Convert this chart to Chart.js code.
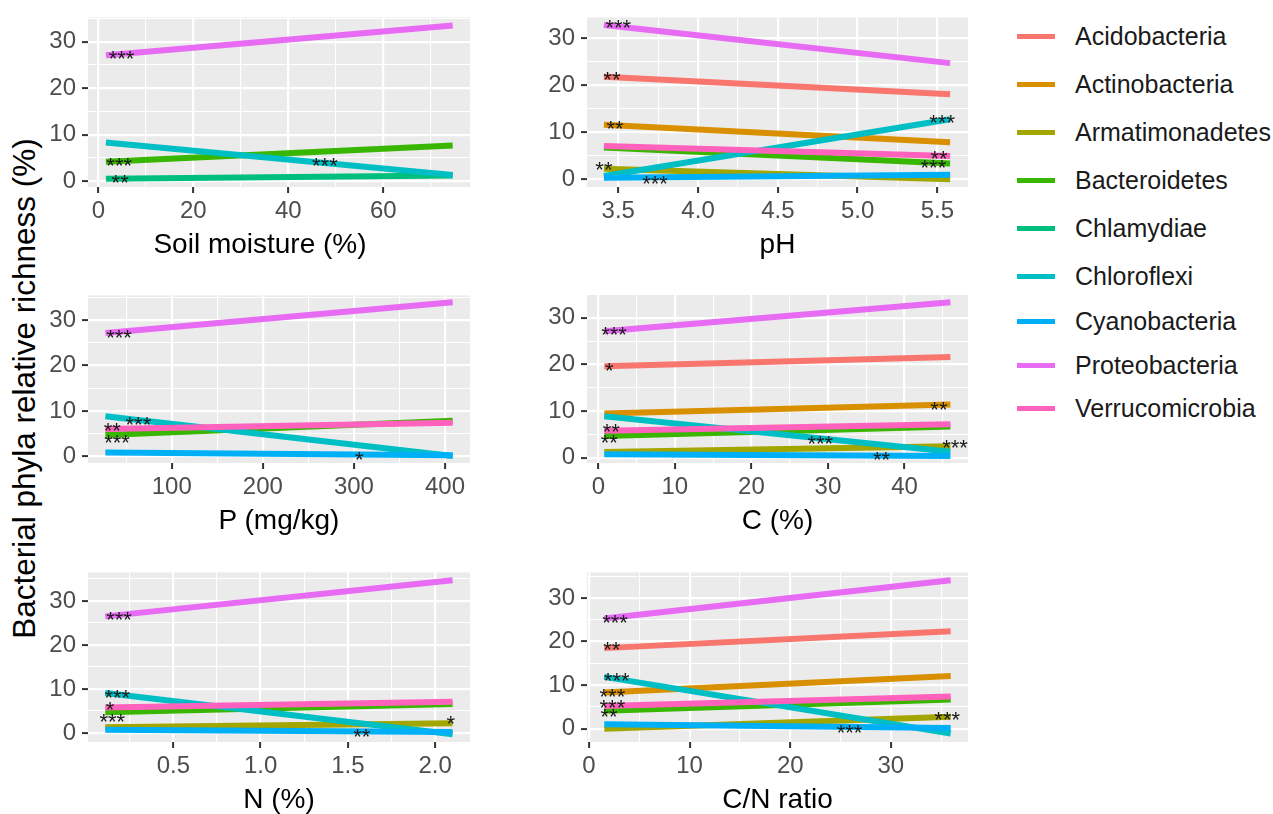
<!DOCTYPE html>
<html>
<head>
<meta charset="utf-8">
<script src="https://cdn.jsdelivr.net/npm/chart.js@4.4.0/dist/chart.umd.min.js"></script>
<style>
  html, body { margin: 0; padding: 0; background: #FFFFFF; }
  body { width: 1273px; height: 814px; position: relative; overflow: hidden;
         font-family: "Liberation Sans", Arial, Helvetica, sans-serif; }
  canvas { position: absolute; }
  #ytitle { position: absolute; width: 600px; height: 31px; line-height: 31px; font-size: 31.5px;
            text-align: center; color: #000000; transform: rotate(-90deg); transform-origin: 50% 50%;
            white-space: nowrap; }
  .xtitle { position: absolute; width: 400px; height: 28px; line-height: 28px; font-size: 28px;
            text-align: center; color: #000000; white-space: nowrap; }
  .leg { position: absolute; left: 1017px; height: 30px; display: flex; align-items: center;
         font-size: 25px; color: #1A1A1A; white-space: nowrap; }
  .leg i { display: inline-block; width: 38px; height: 5px; margin-right: 20px; }
</style>
</head>
<body>
<div id="ytitle">Bacterial phyla relative richness (%)</div>
<script>
// ---------------- data ----------------
const phyla = ['Acidobacteria', 'Actinobacteria', 'Armatimonadetes', 'Bacteroidetes', 'Chlamydiae',
               'Chloroflexi', 'Cyanobacteria', 'Proteobacteria', 'Verrucomicrobia'];
const phylaColors = ['#F8766D', '#D89000', '#A3A500', '#39B600', '#00BF7D',
                     '#00BFC4', '#00B0F6', '#E76BF3', '#FF62BC'];

const yTickValues = [0, 10, 20, 30];
const yTickLabels = ['0', '10', '20', '30'];

// Soil moisture (%)
const moistureX = [1.6, 74.6];
const moistureStart = [null, null, null, 4.2, 0.5, 8.3, null, 27.1, null];
const moistureEnd   = [null, null, null, 7.7, 1.2, 1.3, null, 33.5, null];
const moistureStarText = ['***', '***', '**', '***'];
const moistureStarX = [4.9, 4.4, 4.6, 47.7];
const moistureStarY = [27.1, 4.1, 0.4, 4.2];
const moistureTicks = [0, 20, 40, 60];
const moistureTickLabels = ['0', '20', '40', '60'];
const moistureXRange = [-2.17, 78.25];
const moistureYRange = [-1.26, 35.26];

// pH
const phX = [3.41, 5.58];
const phStart = [21.8, 11.6, 2.3, 6.8, null, 0.75, 0.35, 32.8, 7.1];
const phEnd   = [18.1, 7.9, 0.05, 3.4, null, 12.8, 1.0, 24.7, 5.0];
const phStarText = ['***', '**', '**', '**', '***', '***', '**', '***'];
const phStarX = [3.50, 3.46, 3.48, 3.41, 3.73, 5.53, 5.51, 5.475];
const phStarY = [33.0, 21.9, 11.6, 2.8, -0.1, 12.8, 5.2, 3.2];
const phTicks = [3.5, 4.0, 4.5, 5.0, 5.5];
const phTickLabels = ['3.5', '4.0', '4.5', '5.0', '5.5'];
const phXRange = [3.304, 5.692];
const phYRange = [-1.59, 34.4];

// P (mg/kg)
const pX = [27.2, 408.4];
const pStart = [null, null, null, 4.7, null, 8.8, 0.8, 27.2, 6.0];
const pEnd   = [null, null, null, 7.8, null, 0.05, 0.2, 34.0, 7.4];
const pStarText = ['***', '**', '***', '***', '*'];
const pStarX = [42.2, 34.8, 63.4, 40.0, 305.8];
const pStarY = [27.0, 6.5, 7.8, 3.7, 0.1];
const pTicks = [100, 200, 300, 400];
const pTickLabels = ['100', '200', '300', '400'];
const pXRange = [8.1, 427.4];
const pYRange = [-1.51, 35.5];

// C (%)
const cX = [0.78, 46.0];
const cStart = [19.6, 9.5, 1.25, 4.7, null, 8.9, 0.8, 27.1, 5.8];
const cEnd   = [21.6, 11.4, 2.5, 6.7, null, 1.3, 0.4, 33.3, 7.2];
const cStarText = ['***', '*', '**', '**', '***', '**', '**', '***'];
const cStarX = [2.05, 1.44, 1.7, 1.44, 29.0, 37.0, 44.5, 46.6];
const cStarY = [27.1, 19.4, 6.3, 4.0, 3.9, 0.3, 11.0, 3.0];
const cTicks = [0, 10, 20, 30, 40];
const cTickLabels = ['0', '10', '20', '30', '40'];
const cXRange = [-1.48, 48.3];
const cYRange = [-1.1, 35.0];

// N (%)
const nX = [0.11, 2.10];
const nStart = [null, null, 1.3, 4.7, null, 9.1, 0.75, 26.5, 5.8];
const nEnd   = [null, null, 2.2, 6.6, null, -0.3, 0.2, 34.7, 7.1];
const nStarText = ['***', '***', '*', '***', '**', '*'];
const nStarX = [0.189, 0.179, 0.137, 0.150, 1.58, 2.09];
const nStarY = [26.5, 8.8, 6.1, 3.4, 0.0, 3.0];
const nTicks = [0.5, 1.0, 1.5, 2.0];
const nTickLabels = ['0.5', '1.0', '1.5', '2.0'];
const nXRange = [0.011, 2.2];
const nYRange = [-2.06, 36.5];

// C/N ratio
const cnX = [1.52, 35.95];
const cnStart = [18.5, 8.3, 0.0, 4.1, null, 11.9, 1.0, 25.3, 5.2];
const cnEnd   = [22.4, 12.1, 2.75, 6.7, null, -1.1, 0.15, 34.1, 7.4];
const cnStarText = ['***', '**', '***', '***', '***', '**', '***', '***'];
const cnStarX = [2.58, 2.26, 2.75, 2.32, 2.32, 1.99, 25.9, 35.6];
const cnStarY = [25.3, 19.0, 11.9, 8.2, 5.6, 3.6, 0.0, 2.8];
const cnTicks = [0, 10, 20, 30];
const cnTickLabels = ['0', '10', '20', '30'];
const cnXRange = [-0.2, 37.67];
const cnYRange = [-3.07, 35.9];

// ---------------- rendering ----------------
Chart.defaults.font.family = '"Liberation Sans", Arial, Helvetica, sans-serif';

const AXIS_W = 70, AXIS_H = 80, PAD_T = 16, PAD_R = 30;

function gridTicks(range, majors, labels) {
  const step = majors[1] - majors[0];
  const out = majors.map((v, i) => ({ value: v, label: labels[i], isMinor: false }));
  for (let k = -1; k < majors.length; k++) {
    const m = majors[0] + (k + 0.5) * step;
    if (m >= range[0] && m <= range[1]) out.push({ value: m, label: '', isMinor: true });
  }
  out.sort((a, b) => a.value - b.value);
  return out;
}

function axisOpts(kind, range, majors, labels) {
  const tickList = gridTicks(range, majors, labels);
  return {
    type: 'linear',
    position: kind === 'x' ? 'bottom' : 'left',
    min: range[0], max: range[1],
    afterBuildTicks: s => { s.ticks = tickList.map(t => ({ value: t.value, isMinor: t.isMinor, lbl: t.label })); },
    afterFit: s => { if (kind === 'x') s.height = AXIS_H; else s.width = AXIS_W; },
    border: { display: false },
    grid: {
      color: '#FFFFFF',
      lineWidth: c => (c.tick && c.tick.isMinor) ? 1.1 : 2.2,
      drawTicks: true,
      tickLength: 6,
      tickColor: c => (c.tick && c.tick.isMinor) ? 'rgba(0,0,0,0)' : '#333333',
      tickWidth: 2
    },
    ticks: {
      autoSkip: false, maxRotation: 0, minRotation: 0,
      padding: kind === 'x' ? 4 : 6,
      color: '#4D4D4D', font: { size: 24 },
      callback: function (v, i, arr) { return arr[i].isMinor ? '' : arr[i].lbl; }
    },
    title: { display: false }
  };
}

function makePanel(rect, xTitle, titleCx, xExt, start, end, xRange, yRange, xTicks, xTickLabels, starText, starX, starY) {
  const cw = AXIS_W + (rect.R - rect.L) + PAD_R;
  const ch = PAD_T + (rect.B - rect.T) + AXIS_H;
  const canvas = document.createElement('canvas');
  canvas.width = cw; canvas.height = ch;
  canvas.style.width = cw + 'px'; canvas.style.height = ch + 'px';
  canvas.style.left = (rect.L - AXIS_W) + 'px';
  canvas.style.top = (rect.T - PAD_T) + 'px';
  document.body.appendChild(canvas);

  const datasets = [];
  phyla.forEach((name, i) => {
    if (start[i] === null) return;
    datasets.push({
      label: name,
      data: [{ x: xExt[0], y: start[i] }, { x: xExt[1], y: end[i] }],
      borderColor: phylaColors[i], backgroundColor: phylaColors[i],
      borderWidth: 6, pointRadius: 0, borderCapStyle: 'butt',
      tension: 0, fill: false, order: phyla.length - i
    });
  });

  const bgPlugin = {
    id: 'panelBg',
    beforeDraw(chart) {
      const a = chart.chartArea, ctx = chart.ctx;
      ctx.save();
      ctx.fillStyle = '#EBEBEB';
      ctx.fillRect(a.left, a.top, a.right - a.left, a.bottom - a.top);
      ctx.restore();
    }
  };
  const starPlugin = {
    id: 'stars',
    afterDatasetsDraw(chart) {
      const ctx = chart.ctx, xs = chart.scales.x, ys = chart.scales.y;
      ctx.save();
      ctx.font = '22px "Liberation Sans", Arial, sans-serif';
      ctx.fillStyle = '#1A1A1A';
      ctx.textAlign = 'center';
      ctx.textBaseline = 'alphabetic';
      starText.forEach((t, i) => {
        const m = ctx.measureText(t);
        const off = (m.actualBoundingBoxAscent - m.actualBoundingBoxDescent) / 2;
        ctx.fillText(t, xs.getPixelForValue(starX[i]), ys.getPixelForValue(starY[i]) + off);
      });
      ctx.restore();
    }
  };

  new Chart(canvas, {
    type: 'line',
    data: { datasets },
    options: {
      responsive: false, animation: false, devicePixelRatio: 1, events: [],
      layout: { padding: { top: PAD_T, right: PAD_R, left: 0, bottom: 0 } },
      plugins: { legend: { display: false }, tooltip: { enabled: false } },
      scales: {
        x: axisOpts('x', xRange, xTicks, xTickLabels),
        y: axisOpts('y', yRange, yTickValues, yTickLabels)
      }
    },
    plugins: [bgPlugin, starPlugin]
  });

  // x-axis title
  const t = document.createElement('div');
  t.className = 'xtitle';
  t.textContent = xTitle;
  t.style.left = (titleCx - 200) + 'px';
  t.style.top = (rect.B + 56.5 - 14) + 'px';
  document.body.appendChild(t);
}

makePanel({ L: 88, T: 13, R: 470, B: 187 }, 'Soil moisture (%)', 260, moistureX, moistureStart, moistureEnd,
          moistureXRange, moistureYRange, moistureTicks, moistureTickLabels, moistureStarText, moistureStarX, moistureStarY);
makePanel({ L: 587, T: 13, R: 968, B: 187 }, 'pH', 777.5, phX, phStart, phEnd,
          phXRange, phYRange, phTicks, phTickLabels, phStarText, phStarX, phStarY);
makePanel({ L: 88, T: 291, R: 470, B: 463 }, 'P (mg/kg)', 279, pX, pStart, pEnd,
          pXRange, pYRange, pTicks, pTickLabels, pStarText, pStarX, pStarY);
makePanel({ L: 587, T: 290, R: 968, B: 463 }, 'C (%)', 777.5, cX, cStart, cEnd,
          cXRange, cYRange, cTicks, cTickLabels, cStarText, cStarX, cStarY);
makePanel({ L: 88, T: 568, R: 470, B: 742 }, 'N (%)', 279, nX, nStart, nEnd,
          nXRange, nYRange, nTicks, nTickLabels, nStarText, nStarX, nStarY);
makePanel({ L: 587, T: 568, R: 968, B: 742 }, 'C/N ratio', 777.5, cnX, cnStart, cnEnd,
          cnXRange, cnYRange, cnTicks, cnTickLabels, cnStarText, cnStarX, cnStarY);

// shared y-axis title
const yt = document.getElementById('ytitle');
yt.style.left = (24 - 300) + 'px';
yt.style.top = (388 - 15.5) + 'px';

// legend
const legendY = [36.5, 84, 132.5, 180.5, 228, 276, 321.5, 365.5, 408.5];
phyla.forEach((name, i) => {
  const d = document.createElement('div');
  d.className = 'leg';
  d.style.top = (legendY[i] - 15) + 'px';
  const key = document.createElement('i');
  key.style.background = phylaColors[i];
  d.appendChild(key);
  d.appendChild(document.createTextNode(name));
  document.body.appendChild(d);
});
</script>
</body>
</html>
